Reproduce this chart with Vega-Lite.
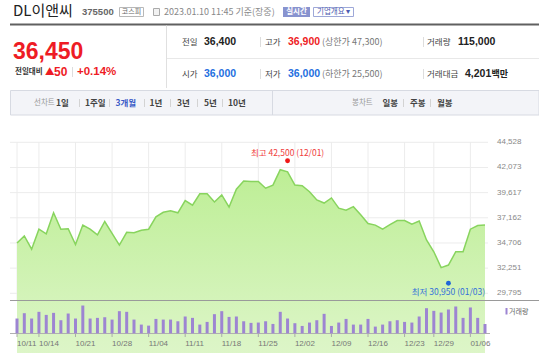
{
"$schema":"https://vega.github.io/schema/vega-lite/v6.json",
"width":539,"height":353,"autosize":{"type":"none"},"padding":0,
"background":"#ffffff",
"config":{"view":{"stroke":null},"text":{"font":"Noto Sans CJK KR","align":"left","baseline":"middle"}},
"data":{"values":[{}]},
"datasets":{
"px":[
{"d":"10/11","c":34700,"v":183000},{"d":"10/12","c":35400,"v":249000},{"d":"10/13","c":34100,"v":183000},{"d":"10/14","c":36050,"v":266000},
{"d":"10/17","c":35600,"v":228000},{"d":"10/18","c":37650,"v":253000},{"d":"10/19","c":36050,"v":162000},{"d":"10/20","c":36100,"v":245000},{"d":"10/21","c":34550,"v":183000},
{"d":"10/24","c":36450,"v":344000},{"d":"10/25","c":36050,"v":183000},{"d":"10/26","c":35500,"v":191000},{"d":"10/27","c":36800,"v":199000},{"d":"10/28","c":35650,"v":170000},
{"d":"10/31","c":34500,"v":274000},{"d":"11/01","c":35750,"v":266000},{"d":"11/02","c":35700,"v":170000},{"d":"11/03","c":35950,"v":108000},{"d":"11/04","c":36050,"v":95000},
{"d":"11/07","c":37250,"v":178000},{"d":"11/08","c":37700,"v":170000},{"d":"11/09","c":37850,"v":170000},{"d":"11/10","c":37650,"v":149000},{"d":"11/11","c":38850,"v":208000},
{"d":"11/14","c":38400,"v":191000},{"d":"11/15","c":39500,"v":108000},{"d":"11/16","c":39500,"v":141000},{"d":"11/17","c":38700,"v":237000},{"d":"11/18","c":39400,"v":274000},
{"d":"11/21","c":38200,"v":203000},{"d":"11/22","c":39950,"v":208000},{"d":"11/23","c":40750,"v":149000},{"d":"11/24","c":40700,"v":129000},{"d":"11/25","c":40700,"v":133000},
{"d":"11/28","c":40050,"v":149000},{"d":"11/29","c":40350,"v":116000},{"d":"11/30","c":41850,"v":266000},{"d":"12/01","c":41650,"v":183000},{"d":"12/02","c":40350,"v":125000},
{"d":"12/05","c":40300,"v":91000},{"d":"12/06","c":39700,"v":133000},{"d":"12/07","c":38900,"v":162000},{"d":"12/08","c":38600,"v":241000},{"d":"12/09","c":39100,"v":91000},
{"d":"12/12","c":38100,"v":133000},{"d":"12/13","c":37900,"v":178000},{"d":"12/14","c":38250,"v":108000},{"d":"12/15","c":37450,"v":108000},{"d":"12/16","c":36600,"v":178000},
{"d":"12/19","c":36450,"v":83000},{"d":"12/20","c":36050,"v":108000},{"d":"12/21","c":36500,"v":149000},{"d":"12/22","c":36900,"v":162000},{"d":"12/23","c":36900,"v":141000},
{"d":"12/26","c":36550,"v":133000},{"d":"12/27","c":36850,"v":208000},{"d":"12/28","c":35000,"v":311000},{"d":"12/29","c":33850,"v":278000},
{"d":"01/02","c":32300,"v":257000},{"d":"01/03","c":32550,"v":295000},{"d":"01/04","c":33850,"v":332000},{"d":"01/05","c":33850,"v":191000},{"d":"01/06","c":36050,"v":320000},
{"d":"01/09","c":36400,"v":191000},{"d":"01/10","c":36450,"v":115000}
],
"ticks":[{"t":29795},{"t":32251},{"t":34706},{"t":37162},{"t":39617},{"t":42073},{"t":44528}]
},
"resolve":{"scale":{"y":"independent"}},
"layer":[
{"mark":{"type":"text","text":"DL이앤씨","x":13,"y":11,"fontSize":15,"fill":"#222222"}},
{"mark":{"type":"text","text":"375500","x":82,"y":12,"fontSize":9.5,"fontWeight":"bold","font":"Liberation Sans","fill":"#666666"}},
{"mark":{"type":"rect","fill":"#ffffff","stroke":"#b8b8b8","strokeWidth":1},"encoding":{"x":{"value":119.5},"x2":{"value":143.5},"y":{"value":7.5},"y2":{"value":16.5}}},
{"mark":{"type":"text","text":"코스피","x":131.5,"y":12,"align":"center","fontSize":7,"fill":"#666666"}},
{"mark":{"type":"rect","fill":"#f2f2f2","stroke":"#aaaaaa","strokeWidth":1},"encoding":{"x":{"value":153.5},"x2":{"value":159.5},"y":{"value":8.5},"y2":{"value":15.5}}},
{"mark":{"type":"text","text":"2023.01.10 11:45 기준(장중)","x":164,"y":12,"fontSize":9,"fill":"#888888"}},
{"mark":{"type":"rect","fill":"#8893cf"},"encoding":{"x":{"value":283},"x2":{"value":310},"y":{"value":7}, "y2":{"value":17}}},
{"mark":{"type":"text","text":"실시간","x":296.5,"y":12,"align":"center","fontSize":7.5,"fontWeight":"bold","fill":"#ffffff"}},
{"mark":{"type":"rect","fill":"#ffffff","stroke":"#9ea8d8","strokeWidth":1},"encoding":{"x":{"value":313.5},"x2":{"value":353.5},"y":{"value":7.5},"y2":{"value":16.5}}},
{"mark":{"type":"text","text":"기업개요 ▾","x":317,"y":12,"fontSize":7.5,"fill":"#4d5cb0"}},
{"mark":{"type":"rule","stroke":"#606060","strokeWidth":2},"encoding":{"x":{"value":10},"x2":{"value":539},"y":{"value":24.5}}},
{"mark":{"type":"rule","stroke":"#e0e0e0","strokeWidth":1},"encoding":{"x":{"value":166.5},"y":{"value":25.5},"y2":{"value":88}}},
{"mark":{"type":"rule","stroke":"#e8e8e8","strokeWidth":1},"encoding":{"x":{"value":167},"x2":{"value":539},"y":{"value":58.5}}},
{"mark":{"type":"text","text":"36,450","x":13,"y":58.5,"baseline":"alphabetic","fontSize":23,"fontWeight":"bold","font":"Liberation Sans","fill":"#ee1c25"}},
{"mark":{"type":"text","text":"전일대비","x":15,"y":72,"fontSize":7.5,"fontWeight":"bold","fill":"#333333"}},
{"mark":{"type":"text","text":"▲","x":45,"y":72,"fontSize":9.5,"fill":"#ee1c25"}},
{"mark":{"type":"text","text":"50","x":54,"y":72,"fontSize":12,"fontWeight":"bold","font":"Liberation Sans","fill":"#ee1c25"}},
{"mark":{"type":"rule","stroke":"#dddddd"},"encoding":{"x":{"value":72.5},"y":{"value":67},"y2":{"value":77}}},
{"mark":{"type":"text","text":"+0.14%","x":77,"y":72,"fontSize":11.5,"fontWeight":"bold","font":"Liberation Sans","fill":"#ee1c25"}},
{"mark":{"type":"text","text":"전일","x":182,"y":42,"fontSize":8.5,"fill":"#444444"}},
{"mark":{"type":"text","text":"36,400","x":204,"y":42,"fontSize":10.5,"fontWeight":"bold","font":"Liberation Sans","fill":"#222222"}},
{"mark":{"type":"rule","stroke":"#dddddd"},"encoding":{"x":{"value":260.5},"y":{"value":37},"y2":{"value":47}}},
{"mark":{"type":"text","text":"고가","x":265,"y":42,"fontSize":8.5,"fill":"#444444"}},
{"mark":{"type":"text","text":"36,900","x":288,"y":42,"fontSize":10.5,"fontWeight":"bold","font":"Liberation Sans","fill":"#ee1c25"}},
{"mark":{"type":"text","text":"(상한가 47,300)","x":322,"y":42,"fontSize":9,"fill":"#777777"}},
{"mark":{"type":"rule","stroke":"#dddddd"},"encoding":{"x":{"value":423.5},"y":{"value":37},"y2":{"value":47}}},
{"mark":{"type":"text","text":"거래량","x":427,"y":42,"fontSize":8.5,"fill":"#444444"}},
{"mark":{"type":"text","text":"115,000","x":458,"y":42,"fontSize":10.5,"fontWeight":"bold","font":"Liberation Sans","fill":"#222222"}},
{"mark":{"type":"text","text":"시가","x":182,"y":74,"fontSize":8.5,"fill":"#444444"}},
{"mark":{"type":"text","text":"36,000","x":204,"y":74,"fontSize":10.5,"fontWeight":"bold","font":"Liberation Sans","fill":"#1f6fe0"}},
{"mark":{"type":"rule","stroke":"#dddddd"},"encoding":{"x":{"value":260.5},"y":{"value":69},"y2":{"value":79}}},
{"mark":{"type":"text","text":"저가","x":265,"y":74,"fontSize":8.5,"fill":"#444444"}},
{"mark":{"type":"text","text":"36,000","x":288,"y":74,"fontSize":10.5,"fontWeight":"bold","font":"Liberation Sans","fill":"#1f6fe0"}},
{"mark":{"type":"text","text":"(하한가 25,500)","x":322,"y":74,"fontSize":9,"fill":"#777777"}},
{"mark":{"type":"rule","stroke":"#dddddd"},"encoding":{"x":{"value":423.5},"y":{"value":69},"y2":{"value":79}}},
{"mark":{"type":"text","text":"거래대금","x":427,"y":74,"fontSize":8.5,"fill":"#444444"}},
{"mark":{"type":"text","text":"4,201","x":465,"y":74,"fontSize":10.5,"fontWeight":"bold","font":"Liberation Sans","fill":"#222222"}},
{"mark":{"type":"text","text":"백만","x":491.5,"y":74,"fontSize":9,"fontWeight":"bold","fill":"#222222"}},
{"mark":{"type":"rect","fill":"#f3f4f8","stroke":"#d7dae2","strokeWidth":1},"encoding":{"x":{"value":10.5},"x2":{"value":539},"y":{"value":90.5},"y2":{"value":115}}},
{"mark":{"type":"rule","stroke":"#d7dae2"},"encoding":{"x":{"value":272.5},"y":{"value":90.5},"y2":{"value":115}}},
{"mark":{"type":"text","text":"선차트","x":34,"y":103,"fontSize":7.5,"fill":"#999999"}},
{"mark":{"type":"text","text":"1일","x":56,"y":103,"fontSize":8.5,"fontWeight":"bold","fill":"#444444"}},
{"mark":{"type":"text","text":"1주일","x":85,"y":103,"fontSize":8.5,"fontWeight":"bold","fill":"#444444"}},
{"mark":{"type":"text","text":"3개월","x":115.5,"y":103,"fontSize":8.5,"fontWeight":"bold","fill":"#3a5bc7"}},
{"mark":{"type":"text","text":"1년","x":149.5,"y":103,"fontSize":8.5,"fontWeight":"bold","fill":"#444444"}},
{"mark":{"type":"text","text":"3년","x":177,"y":103,"fontSize":8.5,"fontWeight":"bold","fill":"#444444"}},
{"mark":{"type":"text","text":"5년","x":204,"y":103,"fontSize":8.5,"fontWeight":"bold","fill":"#444444"}},
{"mark":{"type":"text","text":"10년","x":228,"y":103,"fontSize":8.5,"fontWeight":"bold","fill":"#444444"}},
{"mark":{"type":"text","text":"봉차트","x":352,"y":103,"fontSize":7.5,"fill":"#999999"}},
{"mark":{"type":"text","text":"일봉","x":382.5,"y":103,"fontSize":8.5,"fontWeight":"bold","fill":"#444444"}},
{"mark":{"type":"text","text":"주봉","x":410,"y":103,"fontSize":8.5,"fontWeight":"bold","fill":"#444444"}},
{"mark":{"type":"text","text":"월봉","x":437,"y":103,"fontSize":8.5,"fontWeight":"bold","fill":"#444444"}},
{"mark":{"type":"rule","stroke":"#d3d3d3"},"encoding":{"x":{"value":79.5},"y":{"value":99},"y2":{"value":107}}},
{"mark":{"type":"rule","stroke":"#d3d3d3"},"encoding":{"x":{"value":109.5},"y":{"value":99},"y2":{"value":107}}},
{"mark":{"type":"rule","stroke":"#d3d3d3"},"encoding":{"x":{"value":144.5},"y":{"value":99},"y2":{"value":107}}},
{"mark":{"type":"rule","stroke":"#d3d3d3"},"encoding":{"x":{"value":170.5},"y":{"value":99},"y2":{"value":107}}},
{"mark":{"type":"rule","stroke":"#d3d3d3"},"encoding":{"x":{"value":197.5},"y":{"value":99},"y2":{"value":107}}},
{"mark":{"type":"rule","stroke":"#d3d3d3"},"encoding":{"x":{"value":222.5},"y":{"value":99},"y2":{"value":107}}},
{"mark":{"type":"rule","stroke":"#d3d3d3"},"encoding":{"x":{"value":403.5},"y":{"value":99},"y2":{"value":107}}},
{"mark":{"type":"rule","stroke":"#d3d3d3"},"encoding":{"x":{"value":430.5},"y":{"value":99},"y2":{"value":107}}},
{"data":{"name":"px"},"layer":[
 {"data":{"name":"ticks"},"mark":{"type":"rule","stroke":"#ececec","strokeWidth":1},"encoding":{"y":{"field":"t","type":"quantitative","scale":{"domain":[29795,44528],"range":[293.3,142.3],"zero":false,"nice":false},"axis":null},"x":{"value":10},"x2":{"value":488}}},
 {"transform":[{"filter":{"field":"d","oneOf":["10/11","10/14","10/21","10/28","11/04","11/11","11/18","11/25","12/02","12/09","12/16","12/23","12/29","01/06"]}}],"mark":{"type":"rule","stroke":"#ececec","strokeWidth":1},"encoding":{"x":{"field":"d","type":"ordinal","axis":null},"y":{"value":142},"y2":{"value":300}}},
 {"mark":{"type":"area","opacity":1,"fill":{"x1":0,"y1":0,"x2":0,"y2":1,"gradient":"linear","stops":[{"offset":0,"color":"#bdee95"},{"offset":0.4,"color":"#dbf5c5"},{"offset":0.8,"color":"#f2fbea"},{"offset":1,"color":"#fefffd"}]}},
  "encoding":{"x":{"field":"d","type":"ordinal","scale":{"type":"point","domain":["10/11","10/12","10/13","10/14","10/17","10/18","10/19","10/20","10/21","10/24","10/25","10/26","10/27","10/28","10/31","11/01","11/02","11/03","11/04","11/07","11/08","11/09","11/10","11/11","11/14","11/15","11/16","11/17","11/18","11/21","11/22","11/23","11/24","11/25","11/28","11/29","11/30","12/01","12/02","12/05","12/06","12/07","12/08","12/09","12/12","12/13","12/14","12/15","12/16","12/19","12/20","12/21","12/22","12/23","12/26","12/27","12/28","12/29","01/02","01/03","01/04","01/05","01/06","01/09","01/10"],"range":[17,485],"padding":0},"axis":null},
  "y":{"field":"c","type":"quantitative","scale":{"domain":[29795,44528],"range":[293.3,142.3],"zero":false,"nice":false},"axis":null},"y2":{"value":300}}},
 {"mark":{"type":"line","stroke":"#88d45e","strokeWidth":1.5},"encoding":{"x":{"field":"d","type":"ordinal","axis":null},"y":{"field":"c","type":"quantitative","axis":null}}},
 {"data":{"name":"ticks"},"mark":{"type":"text","fontSize":8,"font":"Liberation Sans","fill":"#888888"},"encoding":{"y":{"field":"t","type":"quantitative","axis":null},"x":{"value":497},"text":{"field":"t","type":"quantitative","format":",d"}}},
 {"data":{"values":[{"d":"12/01","p":42500,"t":"최고 42,500 (12/01)"}]},"mark":{"type":"point","filled":true,"size":24,"opacity":1,"color":"#f01818","yOffset":-2.4},"encoding":{"x":{"field":"d","type":"ordinal","axis":null},"y":{"field":"p","type":"quantitative","axis":null}}},
 {"data":{"values":[{"d":"12/01","p":42500,"t":"최고 42,500 (12/01)"}]},"mark":{"type":"text","align":"center","fontSize":8.5,"fill":"#f03c3c","dy":-9.8},"encoding":{"x":{"field":"d","type":"ordinal","axis":null},"y":{"field":"p","type":"quantitative","axis":null},"text":{"field":"t"}}},
 {"data":{"values":[{"d":"01/03","p":30950,"t":"최저 30,950 (01/03)"}]},"mark":{"type":"point","filled":true,"size":24,"opacity":1,"color":"#1f67d8","yOffset":1.8},"encoding":{"x":{"field":"d","type":"ordinal","axis":null},"y":{"field":"p","type":"quantitative","axis":null}}},
 {"data":{"values":[{"d":"01/03","p":30950,"t":"최저 30,950 (01/03)"}]},"mark":{"type":"text","align":"center","fontSize":8.5,"fill":"#3471d9","dy":10.2},"encoding":{"x":{"field":"d","type":"ordinal","axis":null},"y":{"field":"p","type":"quantitative","axis":null},"text":{"field":"t"}}}
]},
{"mark":{"type":"rule","stroke":"#9a9a9a","strokeWidth":1},"encoding":{"x":{"value":10},"x2":{"value":539},"y":{"value":300.5}}},
{"mark":{"type":"rule","stroke":"#b0b0b0","strokeWidth":1},"encoding":{"x":{"value":10},"x2":{"value":490},"y":{"value":333.5}}},
{"mark":{"type":"rect","fill":"#9d85d2"},"encoding":{"x":{"value":505.5},"x2":{"value":507.5},"y":{"value":308},"y2":{"value":314.5}}},
{"mark":{"type":"text","text":"거래량","x":509,"y":311.5,"fontSize":7,"fill":"#666666"}},
{"data":{"name":"px"},"layer":[
 {"mark":{"type":"bar","width":3,"color":"#9d85d2"},"encoding":{"x":{"field":"d","type":"ordinal","scale":{"type":"point","domain":["10/11","10/12","10/13","10/14","10/17","10/18","10/19","10/20","10/21","10/24","10/25","10/26","10/27","10/28","10/31","11/01","11/02","11/03","11/04","11/07","11/08","11/09","11/10","11/11","11/14","11/15","11/16","11/17","11/18","11/21","11/22","11/23","11/24","11/25","11/28","11/29","11/30","12/01","12/02","12/05","12/06","12/07","12/08","12/09","12/12","12/13","12/14","12/15","12/16","12/19","12/20","12/21","12/22","12/23","12/26","12/27","12/28","12/29","01/02","01/03","01/04","01/05","01/06","01/09","01/10"],"range":[17,485],"padding":0},"axis":null},
  "y":{"field":"v","type":"quantitative","scale":{"domain":[0,400000],"range":[333.3,301],"nice":false},"axis":null}}},
 {"transform":[{"filter":{"field":"d","oneOf":["10/11","10/14","10/21","10/28","11/04","11/11","11/18","11/25","12/02","12/09","12/16","12/23","12/29","01/06"]}}],"mark":{"type":"rule","stroke":"#aaaaaa"},"encoding":{"x":{"field":"d","type":"ordinal","axis":null},"y":{"value":334},"y2":{"value":337}}},
 {"transform":[{"filter":{"field":"d","oneOf":["10/11","10/14","10/21","10/28","11/04","11/11","11/18","11/25","12/02","12/09","12/16","12/23","12/29","01/06"]}}],"mark":{"type":"text","fontSize":8,"font":"Liberation Sans","fill":"#777777"},"encoding":{"x":{"field":"d","type":"ordinal","axis":null},"y":{"value":344},"text":{"field":"d"}}}
]}
]
}
